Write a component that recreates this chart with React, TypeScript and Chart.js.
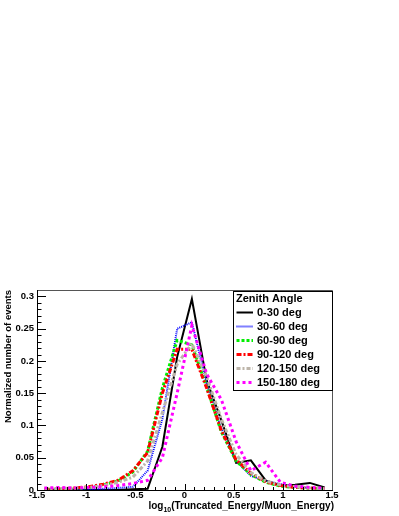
import React, { useEffect, useRef } from "react";
import { Chart, registerables } from "chart.js";

Chart.register(...registerables);

// ---------- data ----------
const binCenters = [
  -1.425, -1.275, -1.125, -0.975, -0.825, -0.675, -0.525, -0.375, -0.225, -0.075,
  0.075, 0.225, 0.375, 0.525, 0.675, 0.825, 0.975, 1.125, 1.275, 1.425,
];
const zen0to30 = [0, 0, 0, 0, 0, 0, 0.001, 0.002, 0.067, 0.206, 0.296, 0.17, 0.108, 0.042, 0.046, 0.015, 0.007, 0.008, 0.011, 0.004];
const zen30to60 = [0.001, 0.001, 0.001, 0.001, 0.002, 0.003, 0.005, 0.03, 0.11, 0.25, 0.26, 0.165, 0.095, 0.045, 0.022, 0.014, 0.009, 0.005, 0.003, 0.002];
const zen60to90 = [0.001, 0.001, 0.002, 0.004, 0.008, 0.014, 0.028, 0.06, 0.158, 0.232, 0.225, 0.16, 0.09, 0.045, 0.024, 0.012, 0.006, 0.004, 0.003, 0.002];
const zen90to120 = [0.001, 0.002, 0.003, 0.005, 0.009, 0.015, 0.03, 0.058, 0.15, 0.218, 0.218, 0.158, 0.092, 0.047, 0.026, 0.013, 0.007, 0.004, 0.003, 0.002];
const zen120to150 = [0.002, 0.002, 0.003, 0.004, 0.007, 0.012, 0.02, 0.045, 0.12, 0.195, 0.227, 0.175, 0.11, 0.055, 0.027, 0.014, 0.008, 0.005, 0.003, 0.002];
const zen150to180 = [0.003, 0.004, 0.003, 0.004, 0.005, 0.007, 0.01, 0.015, 0.05, 0.15, 0.255, 0.18, 0.14, 0.075, 0.03, 0.043, 0.012, 0.006, 0.004, 0.003];

const seriesValues = [zen0to30, zen30to60, zen60to90, zen90to120, zen120to150, zen150to180];
const seriesLabels = ["0-30 deg", "30-60 deg", "60-90 deg", "90-120 deg", "120-150 deg", "150-180 deg"];
const legendTitle = "Zenith Angle";

const xTickValues = [-1.5, -1, -0.5, 0, 0.5, 1, 1.5];
const xTickLabels = ["-1.5", "-1", "-0.5", "0", "0.5", "1", "1.5"];
const yTickValues = [0, 0.05, 0.1, 0.15, 0.2, 0.25, 0.3];
const yTickLabels = ["0", "0.05", "0.1", "0.15", "0.2", "0.25", "0.3"];

const yTitle = "Normalized number of events";
const xTitleMain = "log";
const xTitleSub = "10";
const xTitleRest = "(Truncated_Energy/Muon_Energy)";

// ---------- styles ----------
const FONT = "'Liberation Sans', Arial, Helvetica, sans-serif";
const seriesStyles = [
  { color: "#000000", width: 2, dash: [] as number[] },
  { color: "#0000ff", width: 2, dash: [1, 1] },
  { color: "#00ee00", width: 3, dash: [3, 2] },
  { color: "#ff0000", width: 3, dash: [5, 2, 2, 2] },
  { color: "#bdb5aa", width: 3, dash: [4, 2, 2, 2] },
  { color: "#ff00ff", width: 3, dash: [3, 3] },
];

const rootPlugin = {
  id: "rootFrame",
  afterDatasetsDraw(chart: any) {
    const { ctx, chartArea, scales } = chart;
    const { left, right, top, bottom } = chartArea;
    const x = scales.x;
    const y = scales.y;
    ctx.save();

    // ticks (ROOT style, inside)
    ctx.strokeStyle = "#000";
    ctx.lineWidth = 1;
    ctx.setLineDash([]);
    ctx.beginPath();
    for (let k = 0; k <= 31; k++) {
      const py = Math.round(y.getPixelForValue(k / 100)) + 0.5;
      const len = k % 5 === 0 ? 9 : 4.5;
      ctx.moveTo(left, py);
      ctx.lineTo(left + len, py);
    }
    for (let k = -15; k <= 15; k++) {
      const px = Math.round(x.getPixelForValue(k / 10)) + 0.5;
      const len = k % 5 === 0 ? 6 : 3;
      ctx.moveTo(px, bottom);
      ctx.lineTo(px, bottom - len);
    }
    ctx.stroke();

    // frame
    ctx.strokeStyle = "#555";
    ctx.beginPath();
    ctx.moveTo(left, top + 0.5);
    ctx.lineTo(right + 0.5, top + 0.5);
    ctx.lineTo(right + 0.5, bottom);
    ctx.stroke();
    ctx.strokeStyle = "#000";
    ctx.beginPath();
    ctx.moveTo(left + 0.5, top);
    ctx.lineTo(left + 0.5, bottom + 0.5);
    ctx.lineTo(right + 1, bottom + 0.5);
    ctx.stroke();

    // x title with subscript, right aligned to axis end
    ctx.fillStyle = "#000";
    ctx.textBaseline = "alphabetic";
    const mainFont = `bold 10px ${FONT}`;
    const subFont = `bold 7px ${FONT}`;
    ctx.font = mainFont;
    const wMain = ctx.measureText(xTitleMain).width;
    const wRest = ctx.measureText(xTitleRest).width;
    ctx.font = subFont;
    const wSub = ctx.measureText(xTitleSub).width;
    const endX = right + 2;
    let sx = endX - (wMain + wSub + wRest);
    const base = 509;
    ctx.font = mainFont;
    ctx.textAlign = "left";
    ctx.fillText(xTitleMain, sx, base);
    sx += wMain;
    ctx.font = subFont;
    ctx.fillText(xTitleSub, sx, base + 3);
    sx += wSub;
    ctx.font = mainFont;
    ctx.fillText(xTitleRest, sx, base);

    // legend
    const lx = 233, ly = 291, lw = 99, lh = 99;
    ctx.fillStyle = "#fff";
    ctx.fillRect(lx, ly, lw, lh);
    ctx.strokeStyle = "#000";
    ctx.lineWidth = 1;
    ctx.strokeRect(lx + 0.5, ly + 0.5, lw, lh);
    ctx.fillStyle = "#000";
    ctx.font = `bold 11px ${FONT}`;
    ctx.textBaseline = "middle";
    ctx.fillText(legendTitle, lx + 3, ly + 7.5);
    seriesLabels.forEach((lab, i) => {
      const st = seriesStyles[i];
      const cy = ly + 21.5 + i * 14;
      ctx.strokeStyle = st.color;
      ctx.lineWidth = st.width;
      ctx.setLineDash(st.dash);
      ctx.beginPath();
      ctx.moveTo(lx + 3.5, cy);
      ctx.lineTo(lx + 20, cy);
      ctx.stroke();
      ctx.setLineDash([]);
      ctx.fillStyle = "#000";
      ctx.fillText(lab, lx + 24, cy + 0.5);
    });

    ctx.restore();
  },
};

export default function App() {
  const ref = useRef<HTMLCanvasElement | null>(null);
  useEffect(() => {
    if (!ref.current) return;
    const datasets = seriesValues.map((vals, i) => ({
      label: seriesLabels[i],
      data: vals.map((v, j) => ({ x: binCenters[j], y: v })),
      borderColor: seriesStyles[i].color,
      backgroundColor: seriesStyles[i].color,
      borderWidth: seriesStyles[i].width,
      borderDash: seriesStyles[i].dash,
      borderCapStyle: "butt" as const,
      pointRadius: 0,
      tension: 0,
      fill: false,
      order: 5 - i,
    }));
    const chart = new Chart(ref.current, {
      type: "line",
      data: { datasets },
      options: {
        animation: false,
        responsive: false,
        devicePixelRatio: 1,
        layout: { padding: { left: 0, right: 67, top: 290, bottom: 0 } },
        plugins: { legend: { display: false }, tooltip: { enabled: false } },
        scales: {
          x: {
            type: "linear",
            min: -1.5,
            max: 1.5,
            grid: { display: false, drawTicks: false, tickLength: 0 },
            border: { display: false },
            afterBuildTicks: (s: any) => {
              s.ticks = xTickValues.map((value) => ({ value }));
            },
            afterFit: (s: any) => {
              s.height = 26;
            },
            ticks: {
              autoSkip: false,
              maxRotation: 0,
              padding: 0,
              color: "#000",
              font: { family: FONT, size: 9.5, weight: "bold" },
              callback: (_v: any, i: number) => xTickLabels[i],
            },
          },
          y: {
            type: "linear",
            min: 0,
            max: 0.31,
            grid: { display: false, drawTicks: false, tickLength: 0 },
            border: { display: false },
            afterBuildTicks: (s: any) => {
              s.ticks = yTickValues.map((value) => ({ value }));
            },
            afterFit: (s: any) => {
              s.width = 37;
            },
            title: {
              display: true,
              text: yTitle,
              align: "end",
              color: "#000",
              font: { family: FONT, size: 9.5, weight: "bold" },
              padding: { top: 3, bottom: 0 },
            },
            ticks: {
              autoSkip: false,
              padding: 3,
              color: "#000",
              font: { family: FONT, size: 9.5, weight: "bold" },
              callback: (_v: any, i: number) => yTickLabels[i],
            },
          },
        },
      },
      plugins: [rootPlugin],
    });
    return () => chart.destroy();
  }, []);
  return (
    <div style={{ position: "absolute", left: 0, top: 0, width: 399, height: 516, background: "#fff" }}>
      <canvas ref={ref} width={399} height={516} style={{ display: "block", width: 399, height: 516 }} />
    </div>
  );
}
